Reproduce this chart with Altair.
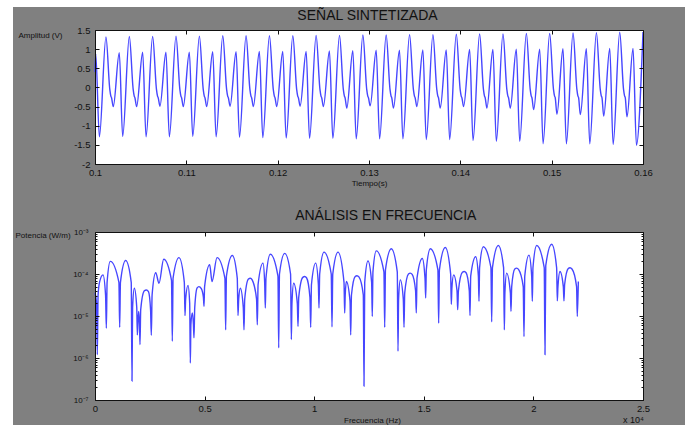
import altair as alt
import pandas as pd

# ---------------- data ----------------
# Top panel: synthesized signal. Times of the big peaks of each cycle (s)
peak_t = [0.10120, 0.10376, 0.10631, 0.10887, 0.11143, 0.11399, 0.11654, 0.11910,
          0.12166, 0.12421, 0.12677, 0.12933, 0.13188, 0.13444, 0.13700, 0.13956,
          0.14211, 0.14467, 0.14723, 0.14978, 0.15234, 0.15490, 0.15745, 0.16000]
peak_amp = [1.32, 1.33, 1.33, 1.34, 1.34, 1.35, 1.35, 1.35, 1.35, 1.36, 1.36, 1.37,
            1.37, 1.38, 1.38, 1.39, 1.40, 1.40, 1.41, 1.41, 1.42, 1.43, 1.44, 1.45]
small_amp = [0.91, 0.92, 0.92, 0.92, 0.93, 0.93, 0.94, 0.94, 0.94, 0.95, 0.96, 0.97,
             0.97, 0.98, 0.98, 0.99, 0.99, 1.00, 1.00, 1.01, 1.01, 1.02, 1.02]
dip_amp = [-0.50, -0.50, -0.49, -0.50, -0.50, -0.49, -0.50, -0.50, -0.49, -0.50, -0.54, -0.48,
           -0.54, -0.50, -0.54, -0.50, -0.54, -0.54, -0.58, -0.70, -0.71, -0.75, -0.77]
trough_amp = [-1.28, -1.29, -1.29, -1.28, -1.29, -1.30, -1.31, -1.32, -1.33, -1.33, -1.34, -1.34,
              -1.34, -1.36, -1.36, -1.39, -1.41, -1.41, -1.47, -1.47, -1.47, -1.49, -1.51]
# shape of one cycle after its big peak: time offsets (s) and the kink values (V)
cycle_offsets = [0.00042, 0.00053, 0.00061, 0.00080, 0.00146, 0.00183]
kink_vals = [-0.05, -0.22, -0.27]
lead_t = [0.10000, 0.10008, 0.10048]
lead_v = [0.40, 0.88, -1.29]

# Bottom panel: spectrum, frequency (Hz) and log10 of power
spec_hz = [0, 70, 106, 141, 213, 365, 482, 517, 552, 699, 1091, 1126, 1161, 1399, 1653, 1688,
           1715, 1794, 1905, 1931, 1955, 1992, 2030, 2053, 2085, 2250, 2342, 2440, 2535, 2570,
           2605, 2770, 2920, 3133, 3490, 3527, 3562, 3832, 4075, 4106, 4135, 4243, 4320, 4349,
           4375, 4440, 4490, 4516, 4550, 4660, 4740, 4850, 4945, 4973, 5000, 5233, 5338, 5566,
           5926, 5961, 5996, 6265, 6490, 6524, 6555, 6630, 6765, 6797, 6830, 7000, 7086, 7170,
           7370, 7405, 7440, 7664, 7740, 7770, 7800, 7998, 8346, 8381, 8416, 8655, 8922, 8957,
           8985, 9064, 9230, 9261, 9295, 9480, 9567, 9650, 9805, 9840, 9875, 10068, 10190, 10219,
           10250, 10447, 10777, 10812, 10847, 11086, 11360, 11391, 11415, 11468, 11635, 11665,
           11700, 11870, 11952, 12040, 12240, 12272, 12305, 12454, 12620, 12650, 12680, 12833,
           13181, 13216, 13251, 13517, 13790, 13823, 13850, 13928, 14065, 14097, 14130, 14300,
           14384, 14470, 14625, 14658, 14690, 14932, 15055, 15086, 15115, 15298, 15643, 15678,
           15713, 15981, 16225, 16255, 16280, 16362, 16515, 16546, 16580, 16760, 16847, 16930,
           17075, 17108, 17140, 17367, 17490, 17518, 17545, 17716, 18062, 18097, 18132, 18400,
           18640, 18674, 18700, 18780, 18950, 18978, 19010, 19150, 19237, 19320, 19536, 19571,
           19606, 19799, 19922, 19951, 19980, 20150, 20494, 20529, 20564, 20834, 21060, 21091,
           21120, 21213, 21365, 21395, 21425, 21590, 21670, 21760, 21970, 22003, 22050]
spec_log = [-4.45, -4.70, -5.92, -4.50, -4.18, -4.02, -4.50, -5.29, -4.20, -3.70, -4.20, -5.27,
            -4.20, -3.68, -4.20, -6.55, -4.80, -4.34, -4.80, -5.45, -5.20, -4.89, -5.20, -5.68,
            -4.85, -4.40, -4.38, -4.42, -4.85, -5.46, -4.50, -3.97, -4.22, -3.65, -4.15, -5.60,
            -4.10, -3.61, -4.20, -4.99, -4.60, -4.27, -4.70, -6.12, -5.20, -4.93, -5.20, -5.52,
            -4.80, -4.33, -4.30, -4.35, -4.55, -4.77, -4.30, -3.78, -4.18, -3.61, -4.10, -5.33,
            -4.05, -3.56, -4.10, -4.99, -4.60, -4.34, -4.80, -5.33, -4.60, -4.12, -4.10, -4.14,
            -4.60, -5.21, -4.25, -3.74, -4.20, -4.81, -4.10, -3.53, -4.05, -5.76, -4.00, -3.51,
            -4.00, -5.56, -4.70, -4.22, -4.70, -5.25, -4.55, -4.08, -4.06, -4.09, -4.55, -5.27,
            -4.25, -3.74, -4.25, -4.81, -4.00, -3.48, -4.00, -5.26, -4.00, -3.48, -4.20, -4.93,
            -4.50, -4.18, -4.65, -5.45, -4.50, -4.06, -4.04, -4.07, -4.50, -6.67, -4.20, -3.69,
            -4.20, -5.01, -3.95, -3.45, -3.95, -5.27, -3.90, -3.40, -3.95, -5.84, -4.60, -4.14,
            -4.60, -5.27, -4.45, -4.00, -3.98, -4.01, -4.40, -4.93, -4.10, -3.63, -4.10, -4.57,
            -3.90, -3.40, -3.90, -5.17, -3.90, -3.37, -4.00, -4.72, -4.35, -4.02, -4.40, -4.85,
            -4.40, -3.96, -3.94, -3.97, -4.40, -4.99, -4.05, -3.59, -4.05, -4.65, -3.85, -3.35,
            -3.85, -5.14, -3.85, -3.32, -3.85, -5.33, -4.45, -3.98, -4.45, -4.89, -4.30, -3.88,
            -3.86, -3.89, -4.30, -5.49, -4.05, -3.55, -4.05, -4.65, -3.85, -3.32, -3.85, -5.92,
            -3.80, -3.29, -3.85, -4.64, -4.30, -3.94, -4.30, -4.64, -4.25, -3.87, -3.85, -3.88,
            -4.30, -5.01, -4.18]

# tick values / labels
x1_ticks = [0.1, 0.11, 0.12, 0.13, 0.14, 0.15, 0.16]
y1_ticks = [-2, -1.5, -1, -0.5, 0, 0.5, 1, 1.5]
x2_ticks = [0, 5000, 10000, 15000, 20000, 25000]
y2_ticks = [1e-7, 1e-6, 1e-5, 1e-4, 1e-3]
decades = [1e-7, 1e-6, 1e-5, 1e-4]
mults = [1, 2, 3, 4, 5, 6, 7, 8, 9]
y2_minor = [m * d for d in decades for m in mults] + [1e-3]

# ---------------- build tables ----------------
ts, vs = list(lead_t), list(lead_v)
for k, pt in enumerate(peak_t):
    ts.append(pt)
    vs.append(peak_amp[k])
    if k < len(trough_amp):
        vals = kink_vals + [dip_amp[k], small_amp[k], trough_amp[k]]
        for off, val in zip(cycle_offsets, vals):
            ts.append(pt + off)
            vs.append(val)
df_top = pd.DataFrame({"t": ts, "v": vs})
df_bot = pd.DataFrame({"f": spec_hz, "p": [10 ** v for v in spec_log]})
one = pd.DataFrame({"k": [0]})

# ---------------- style ----------------
W, H1, H2 = 548, 134, 168
GRAY = "#808080"
BLUE = "#4646ff"
FONT = "Liberation Sans"
INK = "#111111"


def tick_axis(orient, offset, values, size=4):
    return alt.Axis(orient=orient, offset=offset, values=values, labels=False, ticks=True,
                    tickSize=size, tickColor=INK, tickWidth=1, domain=False, grid=False,
                    title=None, zindex=1)


def frame_axis(orient, offset, values, size=4):
    return alt.Axis(orient=orient, offset=offset, values=values, labels=False, ticks=True,
                    tickSize=size, tickColor=INK, tickWidth=1, domain=True, domainColor=INK,
                    domainWidth=1, grid=False, title=None, zindex=1)


# ---------------- top panel ----------------
xs1 = alt.Scale(domain=[0.1, 0.16], nice=False, zero=False)
ys1 = alt.Scale(domain=[-2, 1.5], nice=False, zero=False)

ax_x1 = alt.Axis(values=x1_ticks, labelExpr="'' + datum.value", ticks=False, tickSize=0,
                 domain=True, domainColor=INK, labelFont=FONT, labelFontSize=9.5, labelColor=INK,
                 labelPadding=3, labelFlush=False, labelOverlap=False, grid=False,
                 title="Tiempo(s)", titleFont=FONT, titleFontSize=8, titleFontWeight="normal",
                 titleColor=INK, titleX=W / 2, titleY=19, titleAlign="center",
                 titleBaseline="middle", zindex=1)
ax_y1 = alt.Axis(values=y1_ticks, labelExpr="'' + datum.value", ticks=False, tickSize=0,
                 domain=True, domainColor=INK, labelFont=FONT, labelFontSize=9.5, labelColor=INK,
                 labelPadding=5, labelOverlap=False, grid=False,
                 title="Amplitud (V)", titleFont=FONT, titleFontSize=8, titleFontWeight="normal",
                 titleColor=INK, titleAngle=0, titleX=-77, titleY=5, titleAlign="left",
                 titleBaseline="middle", zindex=1)

bg = alt.Chart(one).mark_rect(color=GRAY).encode(
    x=alt.value(-82), x2=alt.value(590), y=alt.value(-23), y2=alt.value(395))
plot_bg1 = alt.Chart(one).mark_rect(color="white").encode(
    x=alt.value(0), x2=alt.value("width"), y=alt.value(0), y2=alt.value("height"))
line1 = alt.Chart(df_top).mark_line(color=BLUE, strokeWidth=1.4, interpolate="monotone").encode(
    x=alt.X("t:Q", scale=xs1, axis=ax_x1),
    y=alt.Y("v:Q", scale=ys1, axis=ax_y1))
tk1a = alt.Chart(df_top).mark_line(opacity=0).encode(
    x=alt.X("t:Q", scale=xs1, axis=tick_axis("top", -H1, x1_ticks)),
    y=alt.Y("v:Q", scale=ys1, axis=tick_axis("right", -W, y1_ticks)))
tk1b = alt.Chart(df_top).mark_line(opacity=0).encode(
    x=alt.X("t:Q", scale=xs1, axis=frame_axis("bottom", -H1, x1_ticks)),
    y=alt.Y("v:Q", scale=ys1, axis=frame_axis("left", -W, y1_ticks)))
title1 = alt.Chart(one).mark_text(text="SEÑAL SINTETIZADA", font=FONT, fontSize=14,
                                  color=INK, align="center", baseline="alphabetic").encode(
    x=alt.value(272.5), y=alt.value(-10))

top = alt.layer(bg, plot_bg1, line1, tk1a, tk1b, title1).resolve_axis(
    x="independent", y="independent").properties(width=W, height=H1)

# ---------------- bottom panel ----------------
xs2 = alt.Scale(domain=[0, 25000], nice=False, zero=False)
ys2 = alt.Scale(type="log", domain=[1e-7, 1e-3], nice=False)

ax_x2 = alt.Axis(values=x2_ticks, labelExpr="'' + datum.value / 10000", ticks=False, tickSize=0,
                 domain=True, domainColor=INK, labelFont=FONT, labelFontSize=9.5, labelColor=INK,
                 labelPadding=3, labelFlush=False, labelOverlap=False, grid=False,
                 title="Frecuencia (Hz)", titleFont=FONT, titleFontSize=8,
                 titleFontWeight="normal", titleColor=INK, titleX=277, titleY=20.5,
                 titleAlign="center", titleBaseline="middle", zindex=1)
ax_y2 = alt.Axis(values=y2_ticks,
                 labelExpr="'10' + ['⁻⁷','⁻⁶','⁻⁵','⁻⁴','⁻³'][round(log(datum.value)/LN10)+7]",
                 ticks=False, tickSize=0, domain=True, domainColor=INK, labelFont=FONT,
                 labelFontSize=8, labelColor=INK, labelPadding=7, labelOverlap=False, grid=False,
                 title="Potencia  (W/m)", titleFont=FONT, titleFontSize=8,
                 titleFontWeight="normal", titleColor=INK, titleAngle=0, titleX=-80, titleY=3,
                 titleAlign="left", titleBaseline="middle", zindex=1)

major_test = "abs(log(datum.value)/LN10 - round(log(datum.value)/LN10)) < 0.001"
minor_size = {"condition": {"test": major_test, "value": 4}, "value": 2}

plot_bg2 = alt.Chart(one).mark_rect(color="white").encode(
    x=alt.value(0), x2=alt.value("width"), y=alt.value(0), y2=alt.value("height"))
line2 = alt.Chart(df_bot).mark_line(color=BLUE, strokeWidth=1.4, interpolate="monotone").encode(
    x=alt.X("f:Q", scale=xs2, axis=ax_x2),
    y=alt.Y("p:Q", scale=ys2, axis=ax_y2))
tk2a = alt.Chart(df_bot).mark_line(opacity=0).encode(
    x=alt.X("f:Q", scale=xs2, axis=tick_axis("top", -H2, x2_ticks)),
    y=alt.Y("p:Q", scale=ys2, axis=tick_axis("right", -W, y2_minor, minor_size)))
tk2b = alt.Chart(df_bot).mark_line(opacity=0).encode(
    x=alt.X("f:Q", scale=xs2, axis=frame_axis("bottom", -H2, x2_ticks)),
    y=alt.Y("p:Q", scale=ys2, axis=frame_axis("left", -W, y2_minor, minor_size)))
title2 = alt.Chart(one).mark_text(text="ANÁLISIS  EN FRECUENCIA", font=FONT, fontSize=14,
                                  color=INK, align="center", baseline="alphabetic").encode(
    x=alt.value(290.8), y=alt.value(-12))
mult_txt = alt.Chart(one).mark_text(text="x 10⁴", font=FONT, fontSize=9, color=INK,
                                    align="right", baseline="alphabetic").encode(
    x=alt.value(549), y=alt.value(191))

bot = alt.layer(plot_bg2, line2, tk2a, tk2b, title2, mult_txt).resolve_axis(
    x="independent", y="independent").properties(width=W, height=H2)

chart = alt.vconcat(top, bot, spacing=68, bounds="flush").properties(
    padding={"left": 13, "top": 7, "right": 0, "bottom": 0}
).configure(background="white").configure_view(strokeWidth=0)

chart.save("out.html", embed_options={"renderer": "svg", "actions": False})
